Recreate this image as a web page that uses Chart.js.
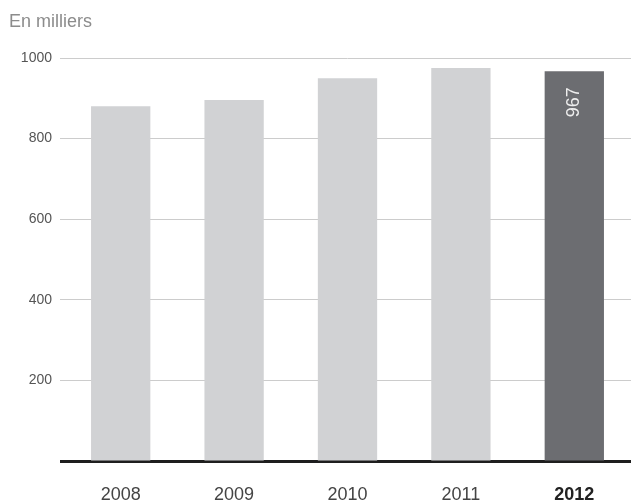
<!DOCTYPE html>
<html>
<head>
<meta charset="utf-8">
<title>En milliers</title>
<script src="https://cdn.jsdelivr.net/npm/chart.js@4.4.1/dist/chart.umd.min.js"></script>
<style>
  html, body { margin: 0; padding: 0; background: #ffffff; }
  canvas { display: block; }
</style>
</head>
<body>
<canvas id="chart" width="631" height="501"></canvas>
<script>
// Yearly totals, in thousands
const years = ['2008', '2009', '2010', '2011', '2012'];
const values = [880, 896, 950, 975, 967];
const yTicks = [200, 400, 600, 800, 1000];
const highlightYear = '2012';
const unitCaption = 'En milliers';

const FONT = '"Liberation Sans", "Helvetica Neue", Helvetica, Arial, sans-serif';
const LIGHT_BAR = '#d1d2d4';
const DARK_BAR = '#6c6d71';
const BASELINE = '#1e1e1e';

const hiIndex = years.indexOf(highlightYear);

// Caption above the value axis
const captionPlugin = {
  id: 'caption',
  afterDraw(chart) {
    const ctx = chart.ctx;
    ctx.save();
    ctx.font = '18px ' + FONT;
    ctx.fillStyle = '#8c8c8c';
    ctx.textAlign = 'left';
    ctx.textBaseline = 'alphabetic';
    ctx.fillText(unitCaption, 9, 27);
    ctx.restore();
  }
};

// Vertical value label inside the highlighted bar
const valueLabelPlugin = {
  id: 'valueLabel',
  afterDatasetsDraw(chart) {
    const meta = chart.getDatasetMeta(0);
    const bar = meta.data[hiIndex];
    if (!bar) return;
    const ctx = chart.ctx;
    ctx.save();
    ctx.translate(bar.x, bar.y + 16);
    ctx.rotate(-Math.PI / 2);
    ctx.font = '18px ' + FONT;
    ctx.fillStyle = '#eeeeee';
    ctx.textAlign = 'right';
    ctx.textBaseline = 'middle';
    ctx.fillText(String(values[hiIndex]), 0, 0);
    ctx.restore();
  }
};

const isZero = (c) => c.tick && c.tick.value === 0;

new Chart(document.getElementById('chart'), {
  type: 'bar',
  data: {
    labels: years,
    datasets: [{
      data: values,
      backgroundColor: years.map(y => y === highlightYear ? DARK_BAR : LIGHT_BAR),
      borderWidth: 0,
      categoryPercentage: 1,
      barPercentage: 0.523
    }]
  },
  options: {
    responsive: false,
    devicePixelRatio: 1,
    animation: false,
    layout: { padding: { top: 58, left: 0, right: 0, bottom: 0 } },
    plugins: {
      legend: { display: false },
      tooltip: { enabled: false },
      title: { display: false }
    },
    scales: {
      x: {
        z: 1,
        grid: { display: false },
        border: { display: true, color: BASELINE, width: 3 },
        ticks: {
          padding: 15,
          font: (c) => ({ family: FONT, size: 18, weight: years[c.index] === highlightYear ? 'bold' : 'normal' }),
          color: (c) => years[c.index] === highlightYear ? '#222222' : '#444444'
        },
        afterFit(scale) { scale.height = 40; }
      },
      y: {
        min: 0,
        max: 1000,
        afterBuildTicks(scale) {
          scale.ticks = [0].concat(yTicks).map(v => ({ value: v }));
        },
        border: { display: false },
        grid: {
          color: (c) => isZero(c) ? 'rgba(0,0,0,0)' : '#cccccc',
          lineWidth: 1,
          drawTicks: true,
          tickLength: 4,
          tickColor: (c) => isZero(c) ? BASELINE : '#cccccc',
          tickWidth: (c) => isZero(c) ? 3 : 1
        },
        ticks: {
          padding: 8,
          font: { family: FONT, size: 14 },
          color: '#555555',
          callback: (v) => v === 0 ? '' : String(v)
        },
        afterFit(scale) { scale.width = 64; }
      }
    }
  },
  plugins: [captionPlugin, valueLabelPlugin]
});
</script>
</body>
</html>
